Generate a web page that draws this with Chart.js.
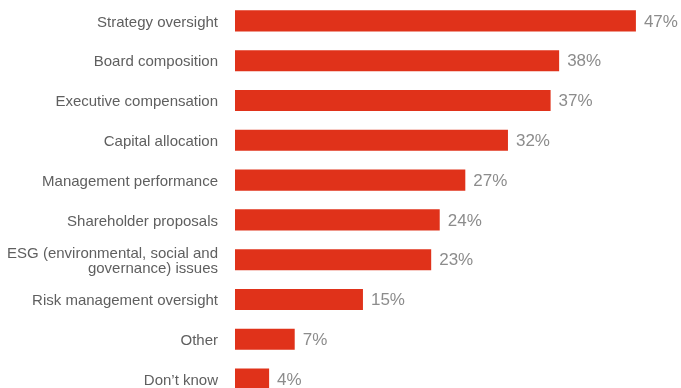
<!DOCTYPE html>
<html>
<head>
<meta charset="utf-8">
<script src="https://cdn.jsdelivr.net/npm/chart.js@4/dist/chart.umd.min.js"></script>
<style>
  html, body { margin: 0; padding: 0; background: #ffffff; }
  #wrap { width: 681px; height: 388px; overflow: hidden; position: relative; }
  #box { width: 681px; height: 399px; position: absolute; left: 0; top: 0; }
</style>
</head>
<body>
<div id="wrap"><div id="box"><canvas id="chart"></canvas></div></div>
<script>
const categories = [
  "Strategy oversight",
  "Board composition",
  "Executive compensation",
  "Capital allocation",
  "Management performance",
  "Shareholder proposals",
  ["ESG (environmental, social and", "governance) issues"],
  "Risk management oversight",
  "Other",
  "Don\u2019t know"
];
const shares = [47, 38, 37, 32, 27, 24, 23, 15, 7, 4];

const BAR_RED = "#e0321a";

// Writes the percentage just past the end of each bar
const valueLabels = {
  id: "valueLabels",
  afterDatasetsDraw(chart) {
    const ctx = chart.ctx;
    const meta = chart.getDatasetMeta(0);
    ctx.save();
    ctx.font = "17px 'Liberation Sans', Arial, sans-serif";
    ctx.fillStyle = "#8c8c8c";
    ctx.textAlign = "left";
    ctx.textBaseline = "middle";
    meta.data.forEach((bar, i) => {
      ctx.fillText(shares[i] + "%", bar.x + 8, bar.y + 1);
    });
    ctx.restore();
  }
};

new Chart(document.getElementById("chart"), {
  type: "bar",
  data: {
    labels: categories,
    datasets: [{
      data: shares,
      backgroundColor: BAR_RED,
      borderWidth: 0,
      categoryPercentage: 1,
      barPercentage: 0.53
    }]
  },
  options: {
    indexAxis: "y",
    responsive: true,
    maintainAspectRatio: false,
    animation: false,
    layout: { padding: { top: 1, right: 19.5, bottom: 0, left: 0 } },
    plugins: {
      legend: { display: false },
      tooltip: { enabled: false }
    },
    scales: {
      x: {
        min: 0,
        max: 50,
        display: false,
        grid: { display: false }
      },
      y: {
        grid: { display: false, drawTicks: false },
        border: { display: false },
        afterFit(scale) {
          scale.width = 235;
          scale.paddingTop = 0;
          scale.paddingBottom = 0;
        },
        ticks: {
          padding: 17,
          labelOffset: 1.5,
          color: "#5f5f5f",
          font: { family: "'Liberation Sans', Arial, sans-serif", size: 15, lineHeight: 1.0 },
          autoSkip: false
        }
      }
    }
  },
  plugins: [valueLabels]
});
</script>
</body>
</html>
